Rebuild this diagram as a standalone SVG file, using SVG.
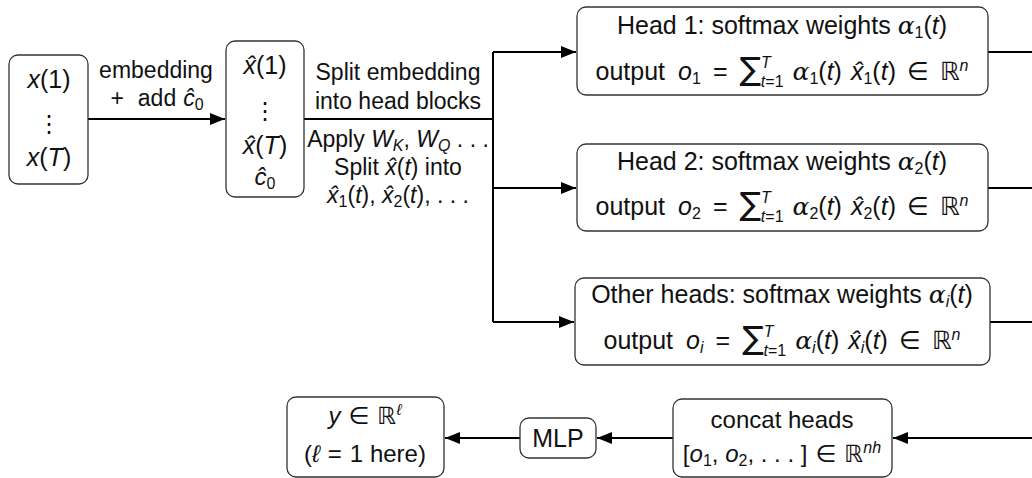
<svg xmlns="http://www.w3.org/2000/svg" width="1032" height="478" viewBox="0 0 1032 478">
  <style>
    .box { fill: #ffffff; stroke: #333333; stroke-width: 1.3; }
    .t { font-family: "Liberation Sans", "DejaVu Sans", sans-serif; font-size: 24px; fill: #111111; text-anchor: middle; }
    .hd { font-size: 25px; }
    .lbl { font-size: 23px; }
    .v { font-style: italic; }
    .gr { font-family: "DejaVu Serif", "Liberation Serif", serif; font-style: italic; }
    .sm { font-size: 16px; }
    .big { font-family: "DejaVu Sans", sans-serif; font-size: 32px; }
    .dots { font-family: "DejaVu Sans", sans-serif; }
    .wire { fill: none; stroke: #000000; stroke-width: 2; }
  </style>
  <defs>
    <marker id="arrow" markerUnits="userSpaceOnUse" markerWidth="16" markerHeight="12" refX="15" refY="6" orient="auto">
      <path d="M0,0 L15,6 L0,12 z" fill="#000000"/>
    </marker>
  </defs>

  <!-- connectors -->
  <g id="connectors">
    <line class="wire" x1="88" y1="119" x2="225" y2="119" marker-end="url(#arrow)"/>
    <line class="wire" x1="304" y1="119" x2="493" y2="119"/>
    <line class="wire" x1="493" y1="52" x2="493" y2="322"/>
    <line class="wire" x1="493" y1="52" x2="576" y2="52" marker-end="url(#arrow)"/>
    <line class="wire" x1="493" y1="188" x2="576" y2="188" marker-end="url(#arrow)"/>
    <line class="wire" x1="493" y1="322" x2="574" y2="322" marker-end="url(#arrow)"/>
    <line class="wire" x1="988" y1="52" x2="1032" y2="52"/>
    <line class="wire" x1="988" y1="188" x2="1032" y2="188"/>
    <line class="wire" x1="990" y1="322" x2="1032" y2="322"/>
    <line class="wire" x1="1032" y1="438" x2="893" y2="438" marker-end="url(#arrow)"/>
    <line class="wire" x1="673" y1="438" x2="597" y2="438" marker-end="url(#arrow)"/>
    <line class="wire" x1="520" y1="438" x2="445" y2="438" marker-end="url(#arrow)"/>
    <!-- edge labels -->
    <text class="t lbl" x="156" y="78">embedding</text>
    <text class="t lbl" x="157" y="106">+<tspan dx="14">add</tspan><tspan dx="7" class="v">ĉ</tspan><tspan class="sm" baseline-shift="-4">0</tspan></text>
    <text class="t lbl" x="398" y="80">Split embedding</text>
    <text class="t lbl" x="398" y="109">into head blocks</text>
    <text class="t lbl" x="398" y="147">Apply <tspan class="v">W</tspan><tspan class="sm v" baseline-shift="-4">K</tspan>, <tspan class="v">W</tspan><tspan class="sm v" baseline-shift="-4">Q</tspan> . . .</text>
    <text class="t lbl" x="398" y="175">Split <tspan class="v">x̂</tspan>(<tspan class="v">t</tspan>) into</text>
    <text class="t lbl" x="398" y="203"><tspan class="v">x̂</tspan><tspan class="sm" baseline-shift="-4">1</tspan>(<tspan class="v">t</tspan>), <tspan class="v">x̂</tspan><tspan class="sm" baseline-shift="-4">2</tspan>(<tspan class="v">t</tspan>), . . .</text>
  </g>

  <!-- input sequence -->
  <g id="input">
    <rect class="box" x="9" y="55" width="79" height="129" rx="9"/>
    <text class="t hd" x="49" y="88"><tspan class="v">x</tspan>(1)</text>
    <text class="t dots" x="49" y="132">⋮</text>
    <text class="t hd" x="49" y="166"><tspan class="v">x</tspan>(<tspan class="v">T</tspan>)</text>
  </g>

  <!-- embedded sequence -->
  <g id="embedded">
    <rect class="box" x="226" y="41" width="78" height="156" rx="9"/>
    <text class="t hd" x="265" y="74"><tspan class="v">x̂</tspan>(1)</text>
    <text class="t dots" x="265" y="119">⋮</text>
    <text class="t hd" x="265" y="154"><tspan class="v">x̂</tspan>(<tspan class="v">T</tspan>)</text>
    <text class="t" x="265" y="185"><tspan class="v">ĉ</tspan><tspan class="sm" baseline-shift="-4">0</tspan></text>
  </g>

  <!-- head 1 -->
  <g id="head1">
    <rect class="box" x="577" y="7" width="411" height="88" rx="9"/>
    <text class="t hd" x="782" y="34">Head 1: softmax weights <tspan class="gr">α</tspan><tspan class="sm" baseline-shift="-4">1</tspan>(<tspan class="v">t</tspan>)</text>
    <text class="t hd" x="782" y="80">output<tspan dx="13" class="v">o</tspan><tspan class="sm" baseline-shift="-4">1</tspan><tspan dx="12">=</tspan><tspan dx="12" class="big">∑</tspan><tspan class="sm v" baseline-shift="12">T</tspan><tspan class="sm" baseline-shift="-7" dx="-10"><tspan class="v">t</tspan>=1</tspan><tspan dx="9" class="gr">α</tspan><tspan class="sm" baseline-shift="-4">1</tspan>(<tspan class="v">t</tspan>)<tspan dx="9" class="v">x̂</tspan><tspan class="sm" baseline-shift="-4">1</tspan>(<tspan class="v">t</tspan>)<tspan dx="11">∈</tspan><tspan dx="11">ℝ</tspan><tspan class="sm v" baseline-shift="9">n</tspan></text>
  </g>

  <!-- head 2 -->
  <g id="head2">
    <rect class="box" x="577" y="144" width="411" height="87" rx="9"/>
    <text class="t hd" x="782" y="170">Head 2: softmax weights <tspan class="gr">α</tspan><tspan class="sm" baseline-shift="-4">2</tspan>(<tspan class="v">t</tspan>)</text>
    <text class="t hd" x="782" y="215">output<tspan dx="13" class="v">o</tspan><tspan class="sm" baseline-shift="-4">2</tspan><tspan dx="12">=</tspan><tspan dx="12" class="big">∑</tspan><tspan class="sm v" baseline-shift="12">T</tspan><tspan class="sm" baseline-shift="-7" dx="-10"><tspan class="v">t</tspan>=1</tspan><tspan dx="9" class="gr">α</tspan><tspan class="sm" baseline-shift="-4">2</tspan>(<tspan class="v">t</tspan>)<tspan dx="9" class="v">x̂</tspan><tspan class="sm" baseline-shift="-4">2</tspan>(<tspan class="v">t</tspan>)<tspan dx="11">∈</tspan><tspan dx="11">ℝ</tspan><tspan class="sm v" baseline-shift="9">n</tspan></text>
  </g>

  <!-- remaining heads -->
  <g id="head-i">
    <rect class="box" x="575" y="278" width="415" height="87" rx="9"/>
    <text class="t hd" x="782" y="303">Other heads: softmax weights <tspan class="gr">α</tspan><tspan class="sm v" baseline-shift="-4">i</tspan>(<tspan class="v">t</tspan>)</text>
    <text class="t hd" x="782" y="349">output<tspan dx="13" class="v">o</tspan><tspan class="sm v" baseline-shift="-4">i</tspan><tspan dx="12">=</tspan><tspan dx="12" class="big">∑</tspan><tspan class="sm v" baseline-shift="12">T</tspan><tspan class="sm" baseline-shift="-7" dx="-10"><tspan class="v">t</tspan>=1</tspan><tspan dx="9" class="gr">α</tspan><tspan class="sm v" baseline-shift="-4">i</tspan>(<tspan class="v">t</tspan>)<tspan dx="9" class="v">x̂</tspan><tspan class="sm v" baseline-shift="-4">i</tspan>(<tspan class="v">t</tspan>)<tspan dx="11">∈</tspan><tspan dx="11">ℝ</tspan><tspan class="sm v" baseline-shift="9">n</tspan></text>
  </g>

  <!-- concatenation -->
  <g id="concat">
    <rect class="box" x="673" y="399" width="219" height="78" rx="9"/>
    <text class="t" x="782" y="428">concat heads</text>
    <text class="t" x="782" y="462">[<tspan class="v">o</tspan><tspan class="sm" baseline-shift="-4">1</tspan>, <tspan class="v">o</tspan><tspan class="sm" baseline-shift="-4">2</tspan>, . . . ]<tspan dx="8">∈</tspan><tspan dx="8">ℝ</tspan><tspan class="sm v" baseline-shift="9">nh</tspan></text>
  </g>

  <!-- MLP -->
  <g id="mlp">
    <rect class="box" x="520" y="418" width="76" height="40" rx="9"/>
    <text class="t hd" x="558" y="447">MLP</text>
  </g>

  <!-- output -->
  <g id="output">
    <rect class="box" x="287" y="397" width="157" height="80" rx="9"/>
    <text class="t" x="365" y="424"><tspan class="v">y</tspan><tspan dx="8">∈</tspan><tspan dx="8">ℝ</tspan><tspan class="sm v" baseline-shift="9">ℓ</tspan></text>
    <text class="t" x="365" y="462">(<tspan class="v">ℓ</tspan><tspan dx="8">=</tspan><tspan dx="8">1</tspan> here)</text>
  </g>
</svg>
